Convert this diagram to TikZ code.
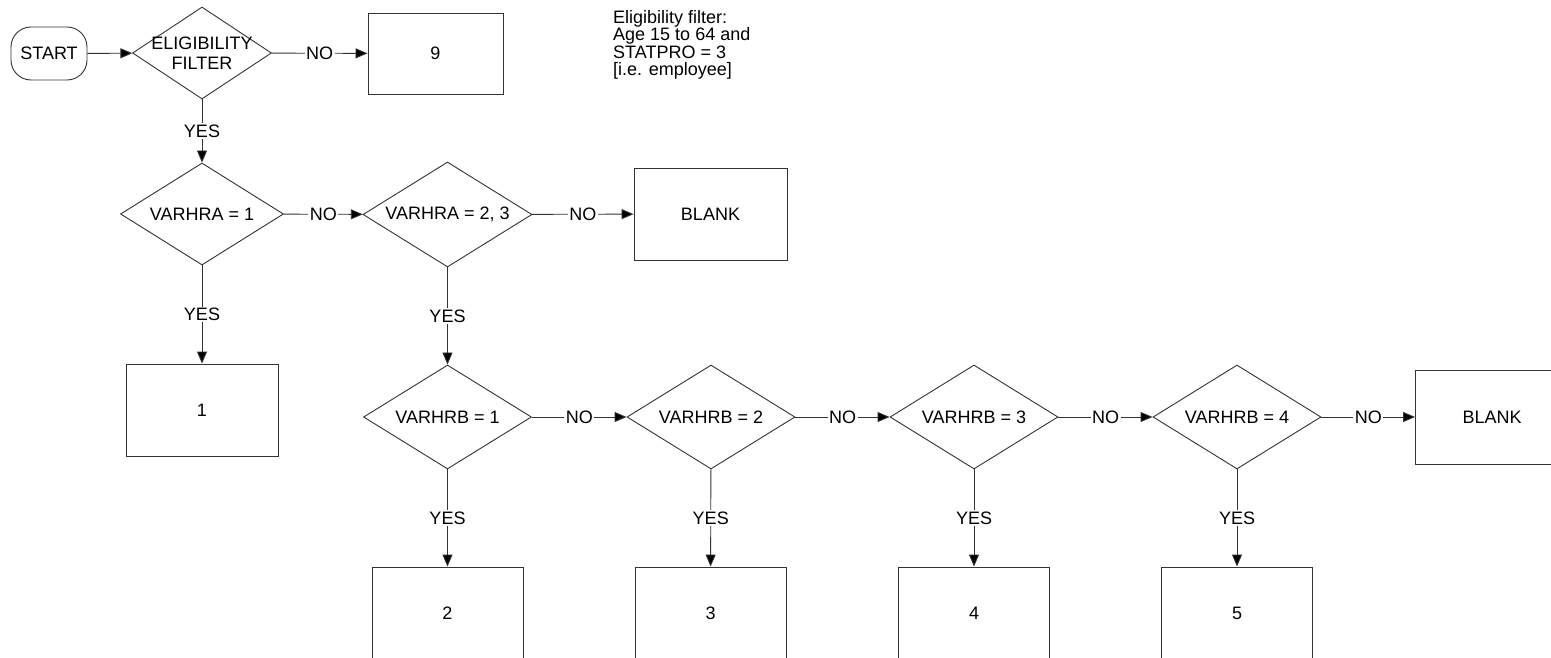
\documentclass[tikz,border=0pt]{standalone}
\usepackage{fontspec}
\setmainfont{Liberation Sans}
\usetikzlibrary{shapes.geometric,arrows.meta}
\definecolor{linegray}{HTML}{333333}
\newcommand{\lbl}{\fontsize{18}{20}\selectfont}
\tikzset{
  startcell/.style={draw=linegray, line width=0.9pt, rounded corners=20pt,
               minimum width=76pt, minimum height=53pt, inner sep=0pt, font=\lbl},
  decision/.style={draw=linegray, line width=0.9pt, shape=diamond, aspect=1.6,
               minimum width=168pt, minimum height=104pt, inner sep=0pt, font=\lbl},
  outcome/.style={draw=linegray, line width=0.9pt, minimum width=152pt,
               minimum height=92pt, inner sep=0pt, font=\lbl},
  flow/.style={-{Triangle[length=12pt,width=10pt,fill=black]}, draw=linegray, line width=0.9pt},
  answer/.style={fill=white, inner sep=1.5pt, font=\lbl},
}

\begin{document}
\begin{tikzpicture}[x=1pt, y=-1pt]
    \useasboundingbox (0,0) rectangle (1551,658);
    \clip (0,0) rectangle (1551,658);
    \node[startcell] (start) at (49, 53.5) {START};
    \node[decision, minimum width=139pt, minimum height=92pt] (elig) at (202, 53) {};
    \node[font=\lbl, align=center, inner sep=0pt] (eligtxt) at (202, 53) {ELIGIBILITY\\FILTER};
    \node[outcome, minimum width=135pt, minimum height=81pt] (out9) at (435.5, 53.5) {9};
    \node[font=\fontsize{18}{17.5}\selectfont, align=left, anchor=north west, inner sep=0pt]
      (note) at (613, 10) {Eligibility filter:\\Age 15 to 64 and\\STATPRO = 3\\{[i.e. employee]}};
    \node[decision, minimum width=163pt, minimum height=102pt] (hra1) at (202, 214) {VARHRA = 1};
    \node[decision, minimum width=169pt, minimum height=105pt] (hra23) at (447.5, 214.5) {VARHRA = 2, 3};
    \node[outcome, minimum width=153pt] (blanka) at (710.5, 214) {BLANK};
    \node[outcome] (out1) at (202, 410) {1};
    \node[decision] (hrb1) at (447.5, 417) {VARHRB = 1};
    \node[decision] (hrb2) at (711, 417) {VARHRB = 2};
    \node[decision] (hrb3) at (974, 417) {VARHRB = 3};
    \node[decision] (hrb4) at (1237, 417) {VARHRB = 4};
    \node[outcome, minimum width=153pt, minimum height=94pt] (blankb) at (1492, 417) {BLANK};
    \node[outcome, minimum width=151pt] (out2) at (447.5, 613) {2};
    \node[outcome, minimum width=151pt] (out3) at (710.5, 613) {3};
    \node[outcome, minimum width=151pt] (out4) at (974, 613) {4};
    \node[outcome, minimum width=151pt] (out5) at (1237, 613) {5};
    \draw[flow] (start) -- (elig);
    \draw[flow] (elig) -- node[answer] {NO} (out9);
    \draw[flow] (elig) -- node[answer] {YES} (hra1);
    \draw[flow] (hra1) -- node[answer] {NO} (hra23);
    \draw[flow] (hra23) -- node[answer] {NO} (blanka);
    \draw[flow] (hra1) -- node[answer] {YES} (out1);
    \draw[flow] (hra23) -- node[answer] {YES} (hrb1);
    \draw[flow] (hrb1) -- node[answer] {NO} (hrb2);
    \draw[flow] (hrb2) -- node[answer] {NO} (hrb3);
    \draw[flow] (hrb3) -- node[answer] {NO} (hrb4);
    \draw[flow] (hrb4) -- node[answer] {NO} (blankb.west);
    \draw[flow] (hrb1) -- node[answer] {YES} (out2);
    \draw[flow] (hrb2) -- node[answer] {YES} (out3);
    \draw[flow] (hrb3) -- node[answer] {YES} (out4);
    \draw[flow] (hrb4) -- node[answer] {YES} (out5);
  \end{tikzpicture}
\end{document}
